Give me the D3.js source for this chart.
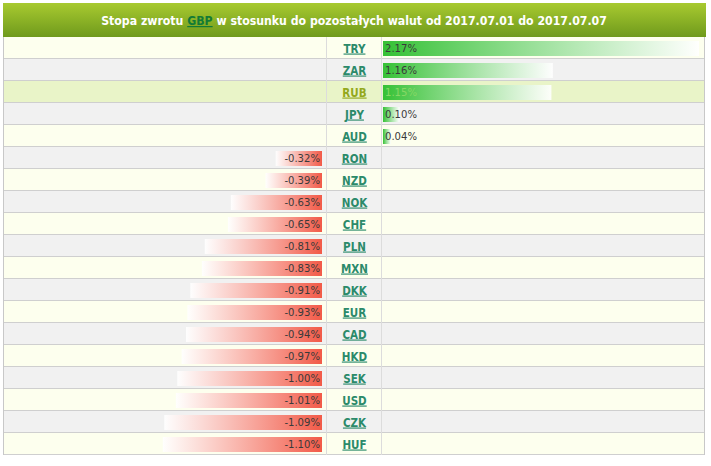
<!DOCTYPE html>
<html>
<head>
<meta charset="utf-8">
<script src="https://cdn.jsdelivr.net/npm/d3@7"></script>
<style>
  body { margin: 0; background: #fff; }
  svg { display: block; }
</style>
</head>
<body>
<svg id="chart"></svg>
<script>
// data
const currencies = ['TRY', 'ZAR', 'RUB', 'JPY', 'AUD', 'RON', 'NZD', 'NOK', 'CHF', 'PLN',
    'MXN', 'DKK', 'EUR', 'CAD', 'HKD', 'SEK', 'USD', 'CZK', 'HUF'];
const returns = [2.17, 1.16, 1.15, 0.10, 0.04, -0.32, -0.39, -0.63, -0.65, -0.81,
    -0.83, -0.91, -0.93, -0.94, -0.97, -1.00, -1.01, -1.09, -1.10];
const highlighted = 'RUB';
const titleParts = ['Stopa zwrotu ', 'GBP', ' w stosunku do pozostałych walut od 2017.07.01 do 2017.07.07'];

// layout
const width = 711;
const height = 466;
const left = 4, right = 704;
const midLeft = 326, midRight = 381;
const top0 = 37;
const rowH = 22;
const barH = 15;

const svg = d3.select('#chart')
    .attr('width', width)
    .attr('height', height);

const defs = svg.append('defs');

const hg = defs.append('linearGradient')
    .attr('id', 'head').attr('x1', 0).attr('y1', 0).attr('x2', 0).attr('y2', 1);
hg.append('stop').attr('offset', '0%').attr('stop-color', '#a8ca30');
hg.append('stop').attr('offset', '100%').attr('stop-color', '#6f9a1c');

const pg = defs.append('linearGradient')
    .attr('id', 'pos').attr('x1', 0).attr('y1', 0).attr('x2', 1).attr('y2', 0);
pg.append('stop').attr('offset', '0%').attr('stop-color', '#35c135');
pg.append('stop').attr('offset', '100%').attr('stop-color', '#ffffff').attr('stop-opacity', 0.9);

const ng = defs.append('linearGradient')
    .attr('id', 'neg').attr('x1', 0).attr('y1', 0).attr('x2', 1).attr('y2', 0);
ng.append('stop').attr('offset', '0%').attr('stop-color', '#ffffff').attr('stop-opacity', 0.9);
ng.append('stop').attr('offset', '100%').attr('stop-color', '#f25a48');

// header
svg.append('rect')
    .attr('x', 3).attr('y', 3)
    .attr('width', 703).attr('height', top0 - 3)
    .attr('fill', 'url(#head)');

const title = svg.append('text')
    .attr('x', (left + right) / 2)
    .attr('y', 25)
    .attr('text-anchor', 'middle')
    .attr('font-family', '"DejaVu Sans Condensed", sans-serif')
    .attr('font-weight', 'bold')
    .attr('font-size', 12.2)
    .attr('fill', '#fff');
title.selectAll('tspan')
    .data(titleParts)
    .enter()
    .append('tspan')
        .text(d => d)
        .attr('fill', (d, i) => i === 1 ? '#137a35' : '#fff')
        .attr('text-decoration', (d, i) => i === 1 ? 'underline' : null);

const y = d3.scaleBand()
    .domain(currencies)
    .range([top0, top0 + rowH * currencies.length]);

const x = d3.scaleLinear()
    .domain([0, d3.max(returns, d => Math.abs(d))])
    .range([0, 314]);

const rows = svg.append('g')
    .selectAll('g')
    .data(currencies.map((c, i) => ({ code: c, value: returns[i], i: i })))
    .enter()
    .append('g')
        .attr('transform', d => `translate(0,${y(d.code)})`);

rows.append('rect')
    .attr('x', left).attr('width', right - left)
    .attr('height', rowH)
    .attr('fill', d => d.code === highlighted ? '#e9f4c8' : (d.i % 2 ? '#f1f1f1' : '#fdffee'));

rows.append('line')
    .attr('x1', left).attr('x2', right)
    .attr('y1', rowH - 0.5).attr('y2', rowH - 0.5)
    .attr('stroke', '#cfcfcf');

// bars
const by = (rowH - barH) / 2 + 0.5;
rows.filter(d => d.value >= 0)
    .append('rect')
        .attr('x', midRight + 2)
        .attr('y', by)
        .attr('height', barH)
        .attr('width', d => x(d.value) + 2)
        .attr('fill', 'url(#pos)');

rows.filter(d => d.value < 0)
    .append('rect')
        .attr('x', d => 322 - x(-d.value))
        .attr('y', by)
        .attr('height', barH)
        .attr('width', d => x(-d.value))
        .attr('fill', 'url(#neg)');

// values
rows.append('text')
    .attr('x', d => d.value >= 0 ? midRight + 4 : 320)
    .attr('y', 15)
    .attr('text-anchor', d => d.value >= 0 ? 'start' : 'end')
    .attr('font-family', '"DejaVu Sans Condensed", sans-serif')
    .attr('font-size', 11.2)
    .attr('fill', d => d.code === highlighted ? '#86d864' : '#3a3a3a')
    .text(d => d.value.toFixed(2) + '%');

// codes
rows.append('text')
    .attr('x', (midLeft + midRight) / 2 + 1)
    .attr('y', 15.5)
    .attr('text-anchor', 'middle')
    .attr('font-family', '"DejaVu Sans Condensed", sans-serif')
    .attr('font-weight', 'bold')
    .attr('font-size', 11.5)
    .attr('text-decoration', 'underline')
    .attr('fill', d => d.code === highlighted ? '#93a81c' : '#2b8a6a')
    .text(d => d.code);

// column lines and outer border
const bottom = top0 + rowH * currencies.length;
svg.append('g')
    .selectAll('line')
    .data([midLeft, midRight])
    .enter()
    .append('line')
        .attr('x1', d => d + 0.5).attr('x2', d => d + 0.5)
        .attr('y1', top0).attr('y2', bottom)
        .attr('stroke', '#dcdcdc');

svg.append('line')
    .attr('x1', left - 0.5).attr('x2', left - 0.5)
    .attr('y1', top0).attr('y2', bottom)
    .attr('stroke', '#c8c8c8');
svg.append('line')
    .attr('x1', right + 0.5).attr('x2', right + 0.5)
    .attr('y1', top0).attr('y2', bottom)
    .attr('stroke', '#c8c8c8');
</script>
</body>
</html>
